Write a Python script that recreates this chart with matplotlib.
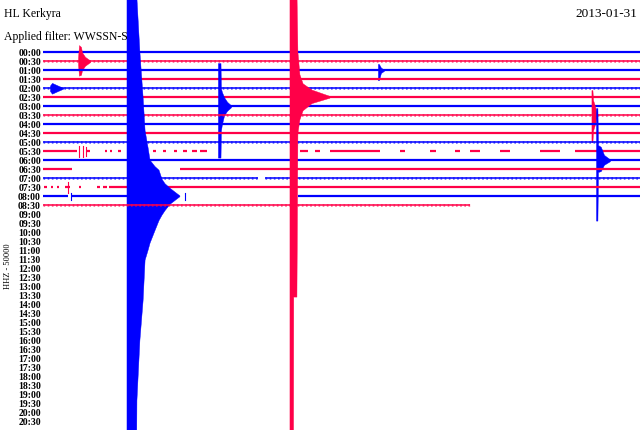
'''Helicorder drum plot, HL Kerkyra, 2013-01-31.'''

import matplotlib
matplotlib.use('Agg')
import matplotlib.pyplot as plt

BLUE = '#0000ff'
RED = '#ff0048'

# one row every 30 minutes, x is minutes within the row
row_labels = [f'{h:02d}:{m:02d}' for h in range(21) for m in (0, 30)]

# recorded pieces of trace per row (start, end) in minutes; rows 0-17 have data
full = [(0, 30)]
row_segments = {
    0: full, 1: full, 2: full, 3: full, 4: full, 5: full, 6: full,
    7: full, 8: full, 9: full, 10: full,
    11: [(0, 1.71), (2.21, 2.36), (3.12, 3.22), (3.37, 3.47), (3.77, 3.92),
         (5.53, 5.68), (6.03, 6.18), (6.58, 6.73), (7.04, 7.24), (7.49, 7.74),
         (7.89, 8.24), (12.91, 13.32), (13.67, 13.92), (14.42, 16.93),
         (17.94, 18.19), (19.45, 19.75), (20.70, 20.95), (21.46, 21.96),
         (22.96, 23.47), (24.97, 25.98), (26.73, 30)],
    12: full,
    13: [(0, 1.46), (6.88, 30)],
    14: [(0, 10.81), (11.16, 30)],
    15: [(0.05, 0.20), (0.40, 0.50), (0.70, 0.80), (1.11, 1.36), (1.81, 1.91),
         (2.71, 2.86), (3.02, 3.22), (3.32, 30)],
    16: [(0, 1.26), (1.41, 4.22), (12.82, 30)],
    17: [(0, 21.46)],
}

# rows whose trace looks speckled rather than clean
noisy_rows = [1, 4, 7, 10, 14, 17]

# event envelopes: minutes, amplitude up / down in row units
ev_big_blue_t = [4.22, 4.70, 4.72, 4.87, 5.03, 5.13, 5.28, 5.38, 5.63, 5.83,
                 5.98, 6.13, 6.38, 6.73, 6.88]
ev_big_blue_up = [30, 30, 22, 16, 11, 7.3, 5.4, 4.0, 3.3, 2.9, 1.9, 1.4, 0.9,
                  0.3, 0.05]
ev_big_blue_dn = [30, 30, 22.7, 16, 11.6, 7.1, 6.0, 5.2, 3.8, 2.7, 2.1, 1.6,
                  0.9, 0.3, 0.05]

ev_big_red_t = [12.41, 12.59, 12.60, 12.76, 12.81, 12.91, 13.07, 13.52, 14.42]
ev_big_red_up = [12, 12, 12, 12, 5, 2.5, 1.5, 0.8, 0.1]
ev_big_red_dn = [37, 37, 22.2, 22.2, 4, 2.5, 1.5, 0.7, 0.1]

ev_0300_t = [8.79, 8.84, 8.92, 8.94, 8.99, 9.10, 9.25, 9.45]
ev_0300_up = [4.8, 4.8, 4.8, 2.0, 1.6, 1.0, 0.5, 0.1]
ev_0300_dn = [5.7, 5.7, 5.7, 2.7, 2.0, 1.0, 0.5, 0.1]

ev_0030_t = [1.76, 1.81, 1.91, 1.96, 2.11, 2.36]
ev_0030_up = [0.4, 1.8, 1.6, 1.0, 0.5, 0.1]
ev_0030_dn = [0.4, 1.6, 1.5, 1.0, 0.5, 0.1]

ev_0200_t = [0.35, 0.45, 0.55, 0.75, 1.01]
ev_0200_up = [0.3, 0.6, 0.5, 0.3, 0.05]
ev_0200_dn = [0.3, 0.6, 0.5, 0.3, 0.05]

ev_0100_t = [16.83, 16.88, 16.98, 17.14]
ev_0100_up = [0.7, 0.7, 0.3, 0.05]
ev_0100_dn = [1.1, 1.1, 0.3, 0.05]

ev_0330_t = [27.56, 27.61, 27.64, 27.74, 27.84]
ev_0330_up = [2.8, 2.8, 1.7, 1.0, 0.1]
ev_0330_dn = [3.0, 3.0, 1.7, 1.0, 0.1]

ev_0600_t = [27.79, 27.86, 27.89, 28.03, 28.19, 28.49]
ev_0600_up = [5.8, 5.8, 1.7, 1.5, 0.6, 0.1]
ev_0600_dn = [6.7, 6.7, 1.3, 1.2, 0.5, 0.1]

# small glitches: row, minute, half height
spike_rows = [11, 11, 11, 15, 16, 16]
spike_t = [1.81, 2.01, 2.16, 1.26, 1.41, 7.14]
spike_amp = [0.6, 0.6, 0.5, 0.6, 0.4, 0.4]

events = [
    (1, ev_0030_t, ev_0030_up, ev_0030_dn),
    (2, ev_0100_t, ev_0100_up, ev_0100_dn),
    (4, ev_0200_t, ev_0200_up, ev_0200_dn),
    (5, ev_big_red_t, ev_big_red_up, ev_big_red_dn),
    (6, ev_0300_t, ev_0300_up, ev_0300_dn),
    (7, ev_0330_t, ev_0330_up, ev_0330_dn),
    (12, ev_0600_t, ev_0600_up, ev_0600_dn),
    (16, ev_big_blue_t, ev_big_blue_up, ev_big_blue_dn),
]


def row_color(row):
    return BLUE if row % 2 == 0 else RED


def main():
    fig = plt.figure(figsize=(6.4, 4.3), dpi=100)
    ax = fig.add_axes([43 / 640, 0, 1 - 43 / 640, 1])
    ax.set_xlim(0, 30)
    ax.set_ylim(41.97, -5.81)

    for row, segs in row_segments.items():
        c = row_color(row)
        for t0, t1 in segs:
            if row in noisy_rows:
                ax.plot([t0, t1], [row, row], color=c, lw=1.1,
                        solid_capstyle='butt', zorder=row)
                ax.plot([t0, t1], [row, row], color=c, lw=2.0, alpha=0.55,
                        dashes=(0.6, 0.9), dash_capstyle='butt', zorder=row)
            else:
                ax.plot([t0, t1], [row, row], color=c, lw=1.6,
                        solid_capstyle='butt', zorder=row)

    for row, t, up, dn in events:
        z = 30 if row == 5 else row + 0.5
        ax.fill_between(t, [row - a for a in up], [row + a for a in dn],
                        color=row_color(row), lw=0.3, zorder=z)

    for row, t, a in zip(spike_rows, spike_t, spike_amp):
        ax.plot([t, t], [row - a, row + a], color=row_color(row), lw=0.8,
                zorder=row + 0.5)

    ax.set_yticks(range(len(row_labels)))
    ax.set_yticklabels(row_labels, fontfamily='Liberation Serif',
                       fontweight='bold', fontsize=7)
    ax.tick_params(axis='y', length=0, pad=1.5)
    ax.set_xticks([])
    for s in ax.spines.values():
        s.set_visible(False)

    fig.text(4 / 640, 1 - 14 / 430, 'HL Kerkyra', fontfamily='Liberation Serif',
             fontsize=8.5, va='center', ha='left')
    fig.text(4 / 640, 1 - 37 / 430, 'Applied filter: WWSSN-S',
             fontfamily='Liberation Serif', fontsize=8.5, va='center', ha='left')
    fig.text(637 / 640, 1 - 14 / 430, '2013-01-31', fontfamily='Liberation Serif',
             fontsize=9.5, va='center', ha='right')
    fig.text(8 / 640, 1 - 266 / 430, 'HHZ - 50000', fontfamily='Liberation Serif',
             fontsize=6, rotation=90, va='center', ha='center')

    fig.savefig('out.png', dpi=100)


if __name__ == '__main__':
    main()
